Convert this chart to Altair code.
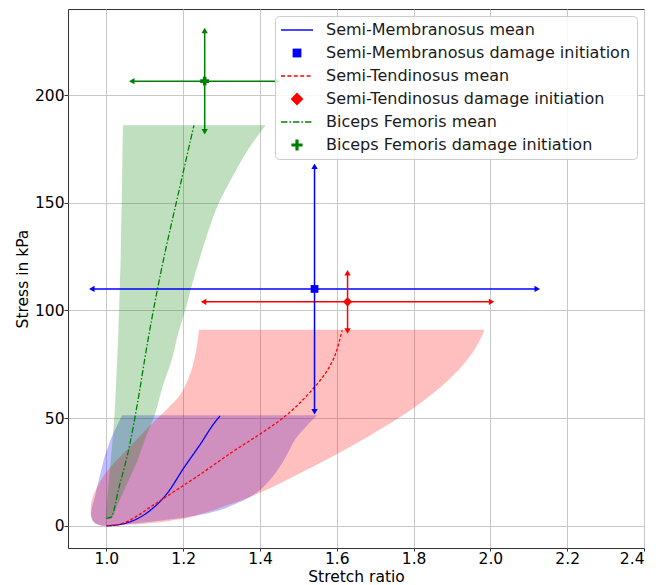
import altair as alt
import pandas as pd

# ---------------- data ----------------
x_ticks = [1.0, 1.2, 1.4, 1.6, 1.8, 2.0, 2.2, 2.4]
y_ticks = [0, 50, 100, 150, 200]

# Semi-Membranosus (blue) band: stress -> stretch range
sm_band_s = [0, 1, 2, 3.5, 5, 7, 9.6, 12, 15, 19, 22.7, 27, 32, 36, 40.5, 45.9, 51.3]
sm_band_lo = [0.99, 0.973, 0.966, 0.962, 0.96, 0.961, 0.964, 0.968, 0.972, 0.977, 0.982, 0.988, 0.995, 1.003, 1.012, 1.026, 1.041]
sm_band_hi = [1.0, 1.07, 1.12, 1.19, 1.241, 1.29, 1.328, 1.36, 1.388, 1.414, 1.432, 1.45, 1.467, 1.479, 1.493, 1.519, 1.549]

# Semi-Tendinosus (red) band
st_band_s = [0, 1, 3, 6, 10, 15, 20, 25, 30, 35, 40, 45, 50, 55, 60, 65, 70, 75, 80, 85, 91]
st_band_lo = [0.99, 0.972, 0.963, 0.959, 0.96, 0.968, 0.982, 1.0, 1.024, 1.052, 1.078, 1.105, 1.133, 1.162, 1.189, 1.205, 1.217, 1.226, 1.232, 1.237, 1.241]
st_band_hi = [1.0, 1.1, 1.19, 1.255, 1.322, 1.395, 1.455, 1.51, 1.565, 1.617, 1.667, 1.714, 1.76, 1.802, 1.84, 1.874, 1.904, 1.93, 1.952, 1.969, 1.985]

# Biceps Femoris (green) band
bf_band_s = [3.4, 10, 20, 30, 40, 51, 65, 77, 90, 100, 112, 123, 135, 150, 162, 175, 186]
bf_band_lo = [0.998, 1.001, 1.006, 1.011, 1.016, 1.021, 1.025, 1.028, 1.031, 1.033, 1.035, 1.037, 1.038, 1.04, 1.041, 1.042, 1.043]
bf_band_hi = [1.015, 1.03, 1.055, 1.08, 1.1, 1.125, 1.147, 1.17, 1.188, 1.205, 1.223, 1.241, 1.262, 1.293, 1.328, 1.37, 1.415]

# mean curves
sm_mean_x = [1.0, 1.04, 1.072, 1.115, 1.158, 1.202, 1.245, 1.28, 1.296]
sm_mean_y = [0, 0.8, 2.6, 7.3, 15, 27, 38, 47.5, 51]
st_mean_x = [1.0, 1.04, 1.072, 1.115, 1.16, 1.202, 1.241, 1.328, 1.415, 1.458, 1.493, 1.527, 1.554, 1.578, 1.597, 1.614]
st_mean_y = [0, 1, 3.7, 8.8, 14, 18.9, 23.5, 34.3, 44.4, 49.8, 55.2, 61.4, 67, 73, 80, 90.8]
bf_mean_x = [1.0, 1.012, 1.033, 1.06, 1.08, 1.107, 1.132, 1.148, 1.187, 1.228]
bf_mean_y = [3.5, 4, 18, 37, 56, 85, 109, 123, 154, 186]

# damage initiation points with errors
dmg_names = ["Semi-Membranosus", "Semi-Tendinosus", "Biceps Femoris"]
dmg_x = [1.542, 1.628, 1.256]
dmg_y = [110, 104, 206.5]
dmg_xerr = [0.58, 0.375, 0.19]
dmg_yerr = [57, 13.5, 23.5]

legend_labels = [
    "Semi-Membranosus mean",
    "Semi-Membranosus damage initiation",
    "Semi-Tendinosus mean",
    "Semi-Tendinosus damage initiation",
    "Biceps Femoris mean",
    "Biceps Femoris damage initiation",
]

# ---------------- styles ----------------
BLUE, RED, GREEN = "#0000ff", "#ff0000", "#008000"
FONT = "DejaVu Sans"
FS = 15.5
series_colors = [BLUE, RED, GREEN]
dmg_shapes = ["square", "diamond", "cross"]
dmg_sizes = [60, 85, 80]


def rect(x0, x1, h):
    return f"M{x0},{-h}L{x1},{-h}L{x1},{h}L{x0},{h}Z"


def dashed(segs, h=0.09):
    return "".join(rect(a, b, h) for a, b in segs)


path_solid = rect(-2, 2, 0.09)
path_dash = dashed([(-2, -1.5), (-1.2, -0.7), (-0.4, 0.1), (0.4, 0.9), (1.2, 1.7)])
path_dashdot = dashed([(-2, -1.2), (-0.95, -0.75), (-0.5, 0.3), (0.55, 0.75), (1.0, 1.8)])
path_square = rect(-0.55, 0.55, 0.55)
path_diamond = "M0,-0.8L0.8,0L0,0.8L-0.8,0Z"
path_plus = ("M-0.2,-0.7L0.2,-0.7L0.2,-0.2L0.7,-0.2L0.7,0.2L0.2,0.2L0.2,0.7"
             "L-0.2,0.7L-0.2,0.2L-0.7,0.2L-0.7,-0.2L-0.2,-0.2Z")
legend_paths = [path_solid, path_square, path_dash, path_diamond, path_dashdot, path_plus]
legend_colors = [BLUE, BLUE, RED, RED, GREEN, GREEN]

xscale = alt.Scale(domain=[0.9, 2.4], nice=False, zero=False)
yscale = alt.Scale(domain=[-10.3, 240], nice=False, zero=False)
xaxis = alt.Axis(values=x_ticks, format=".1f", title="Stretch ratio",
                 titleY=33.3, titleBaseline="alphabetic", tickSize=3)
yaxis = alt.Axis(values=y_ticks, title="Stress in kPa",
                 titleX=-40.5, titleBaseline="alphabetic")

X = lambda f: alt.X(f, type="quantitative", scale=xscale, axis=xaxis)
Y = lambda f: alt.Y(f, type="quantitative", scale=yscale, axis=yaxis)


def band(s, lo, hi, color):
    df = pd.DataFrame({"s": s, "lo": lo, "hi": hi})
    return alt.Chart(df).mark_area(orient="horizontal", color=color, opacity=0.25,
                                   interpolate="monotone").encode(
        y=Y("s"), x=X("lo"), x2="hi"
    )


def mean_line(xs, ys, color, dash):
    df = pd.DataFrame({"x": xs, "y": ys, "i": range(len(xs))})
    return alt.Chart(df).mark_line(color=color, strokeWidth=1.3, strokeDash=dash,
                                   interpolate="monotone").encode(
        x=X("x"), y=Y("y"), order="i:Q"
    )


bands = [
    band(sm_band_s, sm_band_lo, sm_band_hi, BLUE),
    band(st_band_s, st_band_lo, st_band_hi, RED),
    band(bf_band_s, bf_band_lo, bf_band_hi, GREEN),
]
means = [
    mean_line(sm_mean_x, sm_mean_y, BLUE, [1, 0]),
    mean_line(st_mean_x, st_mean_y, RED, [3, 2]),
    mean_line(bf_mean_x, bf_mean_y, GREEN, [6, 2, 1.5, 2]),
]

dmg = pd.DataFrame({
    "name": dmg_names, "x": dmg_x, "y": dmg_y, "xe": dmg_xerr, "ye": dmg_yerr,
    "c": series_colors, "shp": dmg_shapes, "sz": dmg_sizes,
})
base = alt.Chart(dmg).transform_calculate(
    xlo="datum.x - datum.xe", xhi="datum.x + datum.xe",
    ylo="datum.y - datum.ye", yhi="datum.y + datum.ye",
)
hrule = base.mark_rule(strokeWidth=1.5).encode(
    x=X("xlo:Q"), x2="xhi:Q", y=Y("y:Q"), stroke=alt.Stroke("c:N", scale=None)
)
vrule = base.mark_rule(strokeWidth=1.5).encode(
    x=X("x:Q"), y=Y("ylo:Q"), y2="yhi:Q", stroke=alt.Stroke("c:N", scale=None)
)


def tips(xf, yf, shape):
    return base.mark_point(shape=shape, filled=True, size=40, opacity=1).encode(
        x=X(xf), y=Y(yf), fill=alt.Fill("c:N", scale=None)
    )


arrow_tips = [
    tips("xlo:Q", "y:Q", "triangle-left"),
    tips("xhi:Q", "y:Q", "triangle-right"),
    tips("x:Q", "ylo:Q", "triangle-down"),
    tips("x:Q", "yhi:Q", "triangle-up"),
]
markers = base.mark_point(filled=True, opacity=1).encode(
    x=X("x:Q"), y=Y("y:Q"),
    fill=alt.Fill("c:N", scale=None),
    shape=alt.Shape("shp:N", scale=None),
    size=alt.Size("sz:Q", scale=None),
)

# legend-only layer (points placed outside the plotted range and clipped)
leg_df = pd.DataFrame({"label": legend_labels, "x": [3.0] * 6, "y": [0] * 6})
legend_layer = alt.Chart(leg_df).mark_point(filled=True, clip=True, opacity=1).encode(
    x=X("x:Q"), y=Y("y:Q"),
    color=alt.Color("label:N", scale=alt.Scale(domain=legend_labels, range=legend_colors),
                    legend=alt.Legend(title=None, orient="top-right", offset=7)),
    shape=alt.Shape("label:N", scale=alt.Scale(domain=legend_labels, range=legend_paths),
                    legend=alt.Legend(title=None, orient="top-right", offset=7)),
)

chart = alt.layer(*bands, *means, hrule, vrule, *arrow_tips, markers, legend_layer).properties(
    width=576, height=539,
    padding={"left": 60, "top": 1, "right": 13, "bottom": 37},
    autosize=alt.AutoSizeParams(type="none"),
).configure_view(stroke="#333333", strokeWidth=1).configure_axis(
    labelFont=FONT, titleFont=FONT, labelFontSize=FS, titleFontSize=FS,
    titleFontWeight="normal", labelColor="#000000", titleColor="#000000",
    gridColor="#c8c8c8", gridWidth=1, tickColor="#333333", tickSize=4,
    domain=False, labelPadding=0,
).configure_legend(
    labelFont=FONT, labelFontSize=16, labelColor="#1a1a1a",
    symbolSize=256, symbolStrokeWidth=0, symbolOffset=8, labelOffset=21,
    padding=6, rowPadding=7, fillColor="rgba(255,255,255,0.85)",
    strokeColor="#cccccc", cornerRadius=4, labelLimit=400,
)

chart.save("out.html", embed_options={"renderer": "svg", "actions": False})
